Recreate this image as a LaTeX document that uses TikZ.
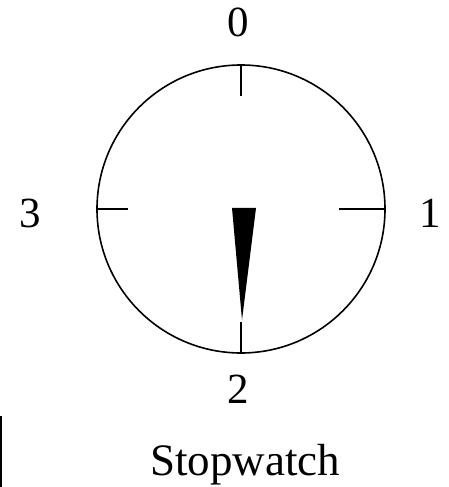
\documentclass[tikz,border=0pt]{standalone}
\usepackage{fontspec}
\setmainfont{Liberation Serif}
\usepackage{tikz}
\usetikzlibrary{positioning}

\begin{document}
\begin{tikzpicture}[
  x=1pt,y=1pt,
  dial/.style={draw,circle,line width=1.6pt,minimum size=288pt,inner sep=0pt},
  digit/.style={inner sep=0pt,font=\fontsize{43}{43}\selectfont},
  caption/.style={inner sep=0pt,anchor=base,font=\fontsize{45}{45}\selectfont},
  tick/.style={line width=1.6pt},
  needle/.style={fill=black,draw=none}
]
\useasboundingbox (0,0) rectangle (449,487);
\node[dial] (watch) at (241,278) {};
\node[digit] (zero) at (238.5,464.5) {0};
\node[digit] (one) at (430,274) {1};
\node[digit] (two) at (238.5,98) {2};
\node[digit] (three) at (30.5,273.5) {3};
\node[caption] (title) at (245,12) {Stopwatch};
% ticks on the dial
\draw[tick] (watch.north) -- ++(0,-32);
\draw[tick] (watch.south) -- ++(0,32);
\draw[tick] (watch.west) -- ++(32,0);
\draw[tick] (watch.east) -- ++(-47,0);
% hand
\coordinate (tip) at (242,167);
\fill[needle] (232,279) -- (256,279) -- (tip) -- cycle;
% rule at the left edge
\coordinate (ruletop) at (1,71);
\coordinate (rulebot) at (1,0);
\draw[line width=2pt] (ruletop) -- (rulebot);
\end{tikzpicture}
\end{document}
